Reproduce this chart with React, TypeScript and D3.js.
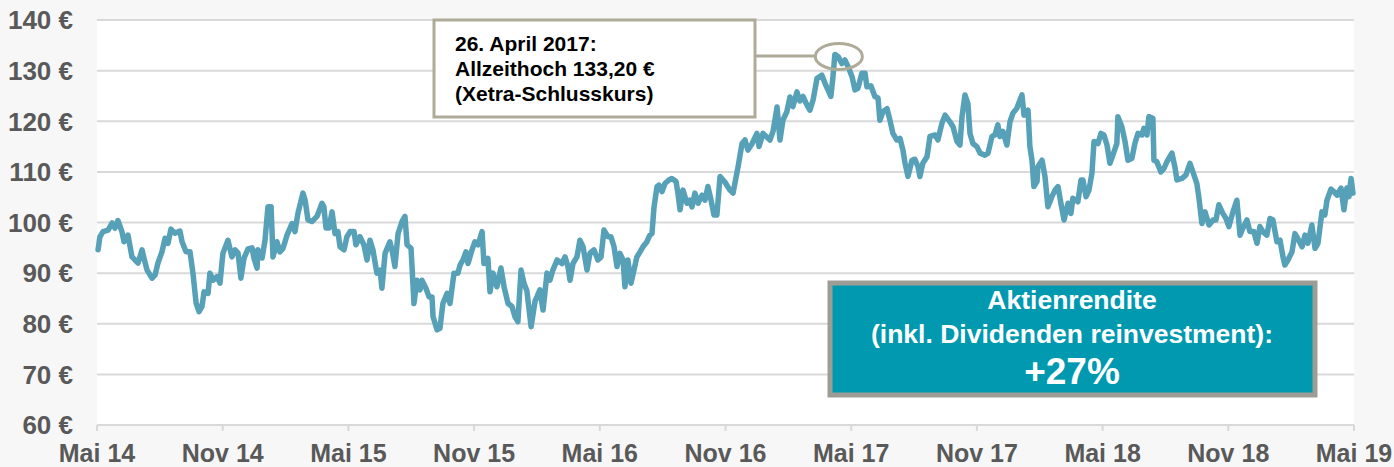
import React from "react";
import * as d3 from "d3";

// months since May 2014
const months: number[] = [
  0.05, 0.14, 0.29, 0.53, 0.72, 0.86, 1.0, 1.19, 1.29, 1.48, 1.67, 1.81, 1.96, 2.15, 2.24, 2.39, 2.63, 2.77, 2.91, 3.1,
  3.25, 3.39, 3.53, 3.72, 3.96, 4.06, 4.25, 4.44, 4.58, 4.73, 4.87, 5.01, 5.11, 5.3, 5.39, 5.54, 5.73, 5.87, 6.01, 6.25,
  6.44, 6.59, 6.73, 6.87, 7.02, 7.21, 7.4, 7.49, 7.64, 7.68, 7.88, 8.02, 8.16, 8.31, 8.4, 8.59, 8.73, 8.88, 9.07, 9.31,
  9.45, 9.59, 9.83, 9.93, 10.07, 10.26, 10.5, 10.74, 10.83, 10.93, 11.07, 11.22, 11.36, 11.5, 11.6, 11.79, 11.93, 12.08, 12.27, 12.36,
  12.55, 12.74, 12.89, 13.03, 13.17, 13.36, 13.51, 13.6, 13.75, 13.98, 14.08, 14.22, 14.37, 14.56, 14.7, 14.8, 14.99, 15.13, 15.27, 15.42,
  15.51, 15.7, 15.85, 15.99, 16.04, 16.23, 16.37, 16.51, 16.71, 16.85, 17.04, 17.23, 17.33, 17.47, 17.61, 17.71, 17.9, 18.04, 18.19, 18.38,
  18.47, 18.66, 18.76, 18.9, 19.09, 19.28, 19.43, 19.62, 19.81, 19.95, 20.09, 20.24, 20.38, 20.52, 20.72, 20.91, 21.0, 21.14, 21.29, 21.48,
  21.62, 21.76, 21.96, 22.19, 22.34, 22.48, 22.58, 22.72, 22.91, 23.05, 23.2, 23.39, 23.53, 23.72, 23.91, 24.06, 24.2, 24.39, 24.53, 24.68,
  24.82, 24.96, 25.11, 25.2, 25.34, 25.49, 25.63, 25.77, 25.92, 26.06, 26.25, 26.39, 26.49, 26.59, 26.73, 26.82, 26.97, 27.11, 27.3, 27.44,
  27.64, 27.73, 27.83, 27.97, 28.16, 28.3, 28.4, 28.54, 28.69, 28.88, 29.02, 29.16, 29.31, 29.45, 29.59, 29.74, 29.97, 30.21, 30.36, 30.6,
  30.79, 30.93, 31.07, 31.26, 31.5, 31.6, 31.79, 32.12, 32.27, 32.46, 32.6, 32.74, 32.93, 33.08, 33.22, 33.41, 33.55, 33.7, 33.89, 34.03,
  34.18, 34.37, 34.6, 34.75, 34.89, 35.03, 35.13, 35.22, 35.37, 35.56, 35.7, 35.85, 36.04, 36.18, 36.32, 36.51, 36.66, 36.75, 36.94, 37.13,
  37.28, 37.37, 37.52, 37.71, 37.85, 37.99, 38.18, 38.33, 38.47, 38.57, 38.71, 38.9, 39.04, 39.19, 39.28, 39.42, 39.62, 39.76, 40.0, 40.14,
  40.33, 40.48, 40.71, 40.86, 41.05, 41.19, 41.29, 41.43, 41.57, 41.67, 41.81, 42.0, 42.15, 42.38, 42.53, 42.72, 42.86, 43.0, 43.1, 43.24,
  43.43, 43.58, 43.72, 43.91, 44.15, 44.25, 44.44, 44.53, 44.63, 44.72, 44.87, 44.91, 45.11, 45.25, 45.39, 45.58, 45.73, 45.87, 46.01, 46.16,
  46.35, 46.49, 46.58, 46.82, 46.97, 47.06, 47.21, 47.35, 47.49, 47.59, 47.78, 47.92, 48.06, 48.21, 48.35, 48.49, 48.68, 48.73, 48.92, 49.07,
  49.21, 49.4, 49.54, 49.69, 49.88, 49.97, 50.12, 50.21, 50.4, 50.45, 50.59, 50.78, 50.93, 51.07, 51.31, 51.45, 51.55, 51.79, 51.98, 52.17,
  52.31, 52.5, 52.6, 52.74, 52.89, 52.98, 53.08, 53.27, 53.41, 53.55, 53.74, 53.89, 54.03, 54.22, 54.41, 54.56, 54.7, 54.89, 55.03, 55.22,
  55.37, 55.51, 55.65, 55.84, 55.99, 56.13, 56.32, 56.47, 56.61, 56.7, 56.85, 57.04, 57.18, 57.32, 57.52, 57.66, 57.8, 57.99, 58.14, 58.28,
  58.47, 58.61, 58.71, 58.9, 59.04, 59.19, 59.38, 59.52, 59.66, 59.76, 59.86, 59.95,
];

// closing price in EUR
const prices: number[] = [
  94.6, 97.2, 98.2, 98.5, 99.9, 98.9, 100.4, 98.2, 96.2, 97.5, 93.2, 92.6, 92.0, 94.6, 93.0, 90.6, 89.0, 89.6, 92.0, 94.2,
  96.9, 95.9, 98.7, 97.9, 98.3, 96.2, 94.2, 94.2, 90.0, 84.1, 82.4, 83.4, 86.3, 86.0, 90.0, 88.6, 89.3, 88.0, 93.9, 96.5,
  93.2, 94.6, 94.0, 89.0, 93.0, 94.8, 95.0, 93.0, 91.0, 94.6, 93.0, 96.5, 103.1, 103.1, 93.2, 96.2, 94.2, 94.9, 97.5, 99.8,
  98.2, 101.8, 105.8, 104.5, 100.5, 100.2, 101.2, 103.8, 103.1, 98.9, 98.9, 102.1, 97.8, 98.2, 95.2, 94.6, 97.2, 98.2, 98.2, 95.6,
  97.2, 95.6, 92.6, 96.5, 94.6, 90.0, 90.6, 87.0, 93.9, 96.2, 94.6, 91.3, 97.8, 100.2, 101.2, 95.6, 94.9, 84.0, 88.6, 86.7,
  88.6, 87.0, 85.3, 85.3, 81.4, 78.8, 79.1, 84.0, 86.0, 84.0, 90.0, 90.0, 91.6, 92.6, 94.2, 91.9, 94.6, 96.2, 95.6, 98.2,
  91.9, 92.9, 86.3, 90.0, 87.3, 91.0, 87.3, 84.0, 83.4, 81.4, 80.4, 90.6, 88.0, 86.5, 79.4, 84.5, 85.3, 86.7, 82.7, 90.0,
  88.6, 90.6, 92.6, 91.9, 93.2, 91.3, 88.6, 91.9, 93.2, 96.5, 95.2, 90.6, 93.9, 94.6, 92.6, 93.2, 98.5, 97.2, 97.2, 95.2,
  91.3, 93.9, 92.6, 87.3, 92.6, 88.0, 90.6, 93.2, 94.2, 95.2, 96.2, 97.5, 97.8, 103.1, 107.1, 107.4, 106.1, 107.7, 108.4, 108.7,
  108.1, 105.8, 102.5, 106.4, 103.8, 104.4, 103.1, 105.8, 103.8, 105.4, 104.4, 107.1, 104.4, 101.5, 101.5, 109.1, 108.0, 106.4, 105.8, 111.0,
  115.6, 116.3, 114.3, 115.5, 117.6, 115.0, 117.6, 116.3, 118.0, 122.8, 116.3, 120.2, 121.9, 124.8, 122.9, 125.8, 124.0, 124.9, 123.2, 122.2,
  124.2, 128.5, 129.1, 127.5, 126.2, 124.9, 128.8, 133.2, 132.8, 131.4, 132.1, 130.8, 128.8, 126.2, 126.5, 129.5, 129.5, 126.8, 127.0, 124.9,
  124.6, 120.2, 121.9, 122.5, 120.2, 117.6, 116.3, 116.6, 114.3, 111.7, 109.1, 112.3, 112.5, 111.0, 109.1, 111.7, 113.0, 117.0, 117.3, 116.3,
  119.6, 121.2, 119.9, 118.9, 116.0, 115.3, 120.9, 125.2, 123.5, 117.6, 115.6, 115.0, 113.7, 113.3, 113.7, 117.0, 117.3, 119.3, 117.0, 118.0,
  115.3, 119.9, 121.6, 122.6, 125.2, 121.2, 122.2, 115.0, 112.3, 107.1, 108.1, 111.0, 112.3, 109.1, 103.1, 105.1, 106.4, 107.1, 103.8, 100.5,
  103.8, 101.8, 104.8, 104.1, 108.4, 108.4, 105.1, 106.4, 109.7, 116.0, 115.6, 117.6, 117.3, 115.3, 111.7, 113.3, 115.6, 120.9, 118.9, 116.0,
  112.3, 112.7, 115.6, 117.6, 117.3, 118.6, 117.3, 120.9, 120.6, 112.3, 112.0, 110.0, 110.7, 112.0, 113.7, 111.0, 108.4, 108.7, 109.4, 111.7,
  110.0, 107.7, 104.8, 99.8, 102.1, 100.8, 99.5, 100.5, 100.5, 103.5, 101.8, 100.8, 99.2, 102.1, 104.4, 97.5, 98.9, 100.5, 98.2, 98.2,
  95.9, 99.2, 98.2, 97.5, 100.8, 100.5, 96.2, 96.5, 93.2, 91.6, 92.6, 94.2, 97.8, 96.8, 95.2, 97.5, 95.9, 99.5, 94.9, 95.9,
  102.1, 101.5, 104.4, 106.6, 106.1, 105.4, 106.8, 102.5, 106.8, 105.1, 108.7, 105.8,
];

const xTickMonths: number[] = [0, 6, 12, 18, 24, 30, 36, 42, 48, 54, 60];
const xTickLabels: string[] = [
  "Mai 14", "Nov 14", "Mai 15", "Nov 15", "Mai 16", "Nov 16", "Mai 17", "Nov 17", "Mai 18", "Nov 18", "Mai 19",
];
const yTicks: number[] = [60, 70, 80, 90, 100, 110, 120, 130, 140];

const peakMonth = 35.22;
const peakValue = 133.2;
const annotationLines: string[] = ["26. April 2017:", "Allzeithoch 133,20 €", "(Xetra-Schlusskurs)"];
const returnLines: string[] = ["Aktienrendite", "(inkl. Dividenden reinvestment):"];
const returnValue = "+27%";

const W = 1394;
const H = 467;
const M = { left: 97, right: 40, top: 20, bottom: 42 };

export default function App() {
  const x = d3.scaleLinear().domain([0, 60]).range([M.left, W - M.right]);
  const y = d3.scaleLinear().domain([60, 140]).range([H - M.bottom, M.top]);
  const data = months.map((m, i) => [m, prices[i]] as [number, number]);
  const line = d3
    .line<[number, number]>()
    .x((d) => x(d[0]))
    .y((d) => y(d[1]))
    .curve(d3.curveLinear);

  const font = "'Liberation Sans', Arial, sans-serif";
  const labelColor = "#595959";
  const gridColor = "#d9d9d9";
  const annColor = "#aeab98";

  const px = x(peakMonth);
  const py = y(peakValue);

  return (
    <svg
      width={W}
      height={H}
      style={{ position: "absolute", left: 0, top: 0, display: "block" }}
      fontFamily={font}
    >
      <rect x={0} y={0} width={W} height={H} fill="#f7f7f7" />
      <rect x={x(0)} y={y(140)} width={x(60) - x(0)} height={y(60) - y(140)} fill="#ffffff" />
      {yTicks.map((t) => (
        <line key={t} x1={x(0)} x2={x(60)} y1={y(t)} y2={y(t)} stroke={gridColor} strokeWidth={2} />
      ))}
      {xTickMonths.map((m) => (
        <line key={m} x1={x(m)} x2={x(m)} y1={y(60)} y2={y(60) + 6} stroke={gridColor} strokeWidth={2} />
      ))}
      {yTicks.map((t) => (
        <text
          key={t}
          x={73}
          y={y(t)}
          dy="0.36em"
          textAnchor="end"
          fontSize={26}
          fontWeight="bold"
          fill={labelColor}
        >
          {`${t} €`}
        </text>
      ))}
      {xTickMonths.map((m, i) => (
        <text
          key={m}
          x={x(m)}
          y={462}
          textAnchor="middle"
          fontSize={25}
          fontWeight="bold"
          fill={labelColor}
        >
          {xTickLabels[i]}
        </text>
      ))}
      <path d={line(data) || ""} fill="none" stroke="#56a0b8" strokeWidth={5.5} strokeLinejoin="round" strokeLinecap="round" />

      {/* annotation */}
      <rect x={434} y={20} width={321} height={97} fill="#ffffff" stroke={annColor} strokeWidth={3} />
      <line x1={755} x2={px - 20} y1={py + 1.5} y2={py + 1.5} stroke={annColor} strokeWidth={3} />
      <ellipse cx={px + 4} cy={py + 2} rx={23.5} ry={13} fill="none" stroke={annColor} strokeWidth={3} />
      {annotationLines.map((s, i) => (
        <text key={i} x={455} y={51 + i * 25} fontSize={21} fontWeight="bold" fill="#000000">
          {s}
        </text>
      ))}

      {/* return box */}
      <rect x={830} y={283} width={485} height={112} fill="#0099b0" stroke="#9e9d95" strokeWidth={5} />
      {returnLines.map((s, i) => (
        <text
          key={i}
          x={1072}
          y={309 + i * 34}
          textAnchor="middle"
          fontSize={26.5}
          fontWeight="bold"
          fill="#ffffff"
        >
          {s}
        </text>
      ))}
      <text x={1072} y={384} textAnchor="middle" fontSize={37} fontWeight="bold" fill="#ffffff">
        {returnValue}
      </text>
    </svg>
  );
}
